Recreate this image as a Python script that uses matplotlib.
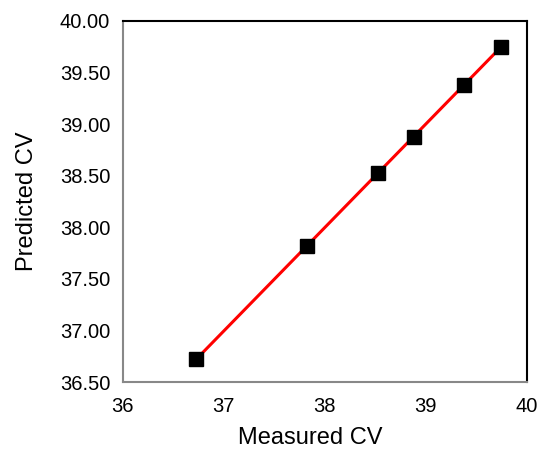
import numpy as np
import matplotlib.pyplot as plt

plt.rcParams['font.family'] = ['Liberation Sans', 'DejaVu Sans']

measured = [36.73, 37.82, 38.53, 38.88, 39.38, 39.75]
predicted = [36.72, 37.82, 38.53, 38.88, 39.38, 39.75]
x_ticks = [36, 37, 38, 39, 40]
y_ticks = [36.5, 37.0, 37.5, 38.0, 38.5, 39.0, 39.5, 40.0]

fig = plt.figure(figsize=(5.44, 4.53), dpi=100)
ax = fig.add_axes([0.2256, 0.1567, 0.7426, 0.797])

# linear fit drawn across the data range
slope, icpt = np.polyfit(measured, predicted, 1)
xs = np.array([min(measured), max(measured)])
ax.plot(xs, slope * xs + icpt, color='#ff0000', lw=2.2, zorder=2)
ax.plot(measured, predicted, 's', color='black', ms=10, zorder=3)

ax.set_xlim(36, 40)
ax.set_ylim(36.5, 40.0)
ax.set_xticks(x_ticks)
ax.set_yticks(y_ticks)
ax.set_yticklabels(['%.2f' % v for v in y_ticks])
ax.tick_params(axis='both', length=0, labelsize=14.5, pad=9)
ax.tick_params(axis='x', pad=11)

for side in ['left', 'bottom']:
    ax.spines[side].set_color('#888888')
    ax.spines[side].set_linewidth(1.5)
for side in ['top', 'right']:
    ax.spines[side].set_color('black')
    ax.spines[side].set_linewidth(1.5)

ax.set_xlabel('Measured CV', fontsize=17, labelpad=11)
ax.xaxis.set_label_coords(0.465, -0.125)
ax.set_ylabel('Predicted CV', fontsize=17, labelpad=16)

fig.savefig('out.png', dpi=100)
